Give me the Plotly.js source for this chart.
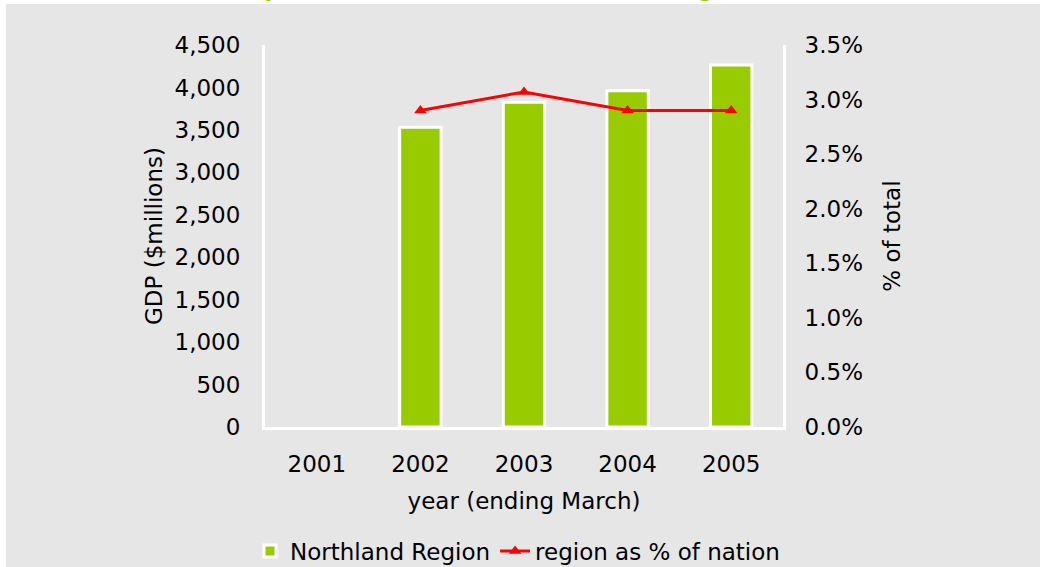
<!DOCTYPE html>
<html>
<head>
<meta charset="utf-8">
<script src="https://cdn.plot.ly/plotly-3.0.1.min.js"></script>
<style>
  html, body { margin: 0; padding: 0; background: #ffffff; }
  #chart { width: 1040px; height: 567px; }
</style>
</head>
<body>
<div id="chart"></div>
<script>
// ---- data ----
const years = ['2001', '2002', '2003', '2004', '2005'];
const gdpMillions = [null, 3530, 3825, 3960, 4265];
const shareOfNation = [null, 0.0290, 0.0307, 0.0290, 0.0290];
const barName = 'Northland Region';
const lineName = 'region as % of nation';
const titleText = 'Compared to New Zealand: Northland Region';
const xTitle = 'year (ending March)';
const yTitle = 'GDP ($millions)';
const y2Title = '% of total';

// ---- layout constants ----
const W = 1040, H = 567;
const M = { l: 265, r: 257, t: 45, b: 140, autoexpand: false };
const PW = W - M.l - M.r, PH = H - M.t - M.b;
const px2x = px => (px - M.l) / PW;
const py2y = py => (H - M.b - py) / PH;

const green = '#99cc00';
const red = '#ff0000';
const bg = '#e6e6e6';
const font = 'DejaVu Sans, Verdana, sans-serif';
const fs = 23;

const traces = [
  {
    type: 'bar',
    name: barName,
    x: years,
    y: gdpMillions,
    width: 0.4,
    marker: { color: green, line: { color: '#ffffff', width: 3 } },
    hoverinfo: 'skip'
  },
  {
    type: 'scatter',
    mode: 'lines+markers',
    name: lineName,
    x: years,
    y: shareOfNation,
    yaxis: 'y2',
    line: { color: red, width: 3 },
    marker: { symbol: 'triangle-up', size: 11, color: red },
    hoverinfo: 'skip'
  }
];

const layout = {
  width: W, height: H,
  margin: M,
  paper_bgcolor: bg,
  plot_bgcolor: 'rgba(0,0,0,0)',
  font: { family: font, size: fs, color: '#000000' },
  showlegend: true,
  legend: {
    orientation: 'h',
    xref: 'paper', x: px2x(250), xanchor: 'left',
    yref: 'paper', y: py2y(551), yanchor: 'middle',
    font: { family: font, size: fs, color: '#000000' },
    bgcolor: 'rgba(0,0,0,0)', itemclick: false,
    itemwidth: 30, tracegroupgap: 0
  },
  xaxis: {
    type: 'category',
    showline: true, linecolor: '#ffffff', linewidth: 3,
    showgrid: false, zeroline: false, ticks: '',
    ticklabelstandoff: 14,
    title: { text: xTitle, standoff: 18, font: { family: font, size: fs } }
  },
  yaxis: {
    range: [0, 4500], dtick: 500, tickformat: ',d',
    showline: true, linecolor: '#ffffff', linewidth: 3,
    showgrid: false, zeroline: false, ticks: '',
    ticklabelstandoff: 17,
    title: { text: yTitle, standoff: 6, font: { family: font, size: fs } }
  },
  yaxis2: {
    overlaying: 'y', side: 'right',
    range: [0, 0.035], dtick: 0.005, tickformat: '.1%',
    showline: true, linecolor: '#ffffff', linewidth: 3,
    showgrid: false, zeroline: false, ticks: '',
    ticklabelstandoff: 14,
    title: { text: y2Title, standoff: 22, font: { family: font, size: fs } }
  },
  bargap: 0.6,
  shapes: [
    { type: 'rect', xref: 'paper', yref: 'paper', layer: 'above',
      x0: px2x(0), x1: px2x(W), y0: py2y(4), y1: py2y(0),
      fillcolor: '#ffffff', line: { width: 0 } },
    { type: 'rect', xref: 'paper', yref: 'paper', layer: 'above',
      x0: px2x(0), x1: px2x(6), y0: py2y(H), y1: py2y(0),
      fillcolor: '#ffffff', line: { width: 0 } }
  ],
  annotations: [
    { text: '<b>' + titleText + '</b>', showarrow: false,
      xref: 'paper', yref: 'paper',
      x: px2x(211), xanchor: 'left',
      y: py2y(-10), yanchor: 'middle',
      font: { family: font, size: 21, color: green } }
  ]
};

Plotly.newPlot('chart', traces, layout, { displayModeBar: false, staticPlot: true });
</script>
</body>
</html>
